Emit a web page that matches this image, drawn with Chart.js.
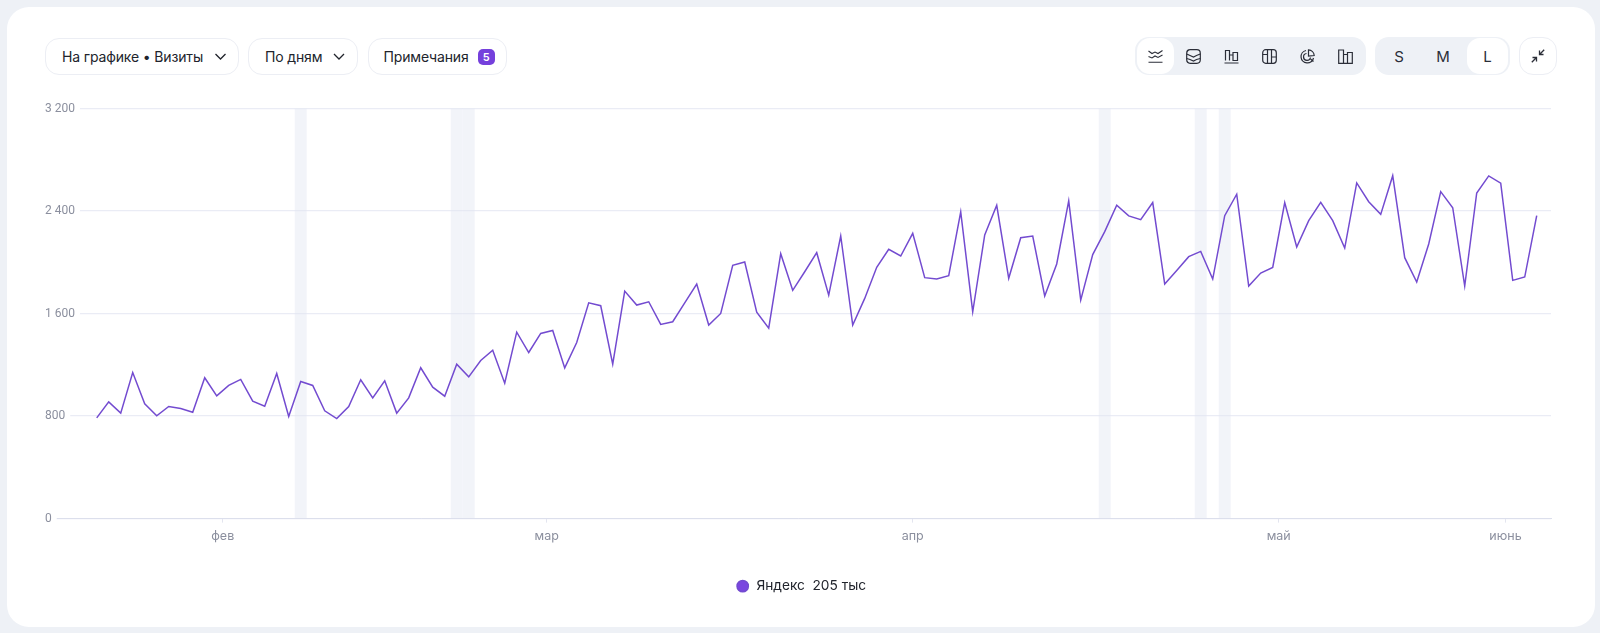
<!DOCTYPE html>
<html lang="ru">
<head>
<meta charset="utf-8">
<title>Визиты</title>
<script src="https://cdn.jsdelivr.net/npm/chart.js@4/dist/chart.umd.min.js"></script>
<style>
  html, body { margin: 0; padding: 0; width: 1600px; height: 633px; overflow: hidden; background: #eef1f6; }
  body { font-family: Inter, "Noto Sans", sans-serif; color: #21242c; }
  .card { position: absolute; left: 7px; top: 7px; width: 1588px; height: 620px; background: #fff; border-radius: 22px; }
  .btn { position: absolute; top: 38px; height: 35px; border: 1px solid #eceef4; border-radius: 14px; background: #fff;
         display: flex; align-items: center; font-size: 14px; letter-spacing: -0.15px; white-space: nowrap; }
  .btn svg { display: block; }
  .badge { display: inline-block; width: 17px; height: 16px; line-height: 16px; text-align: center; background: #7540dc;
           color: #fff; font-size: 11px; font-weight: 600; border-radius: 5px; margin-left: 9px; letter-spacing: 0; }
  .group { position: absolute; top: 37px; height: 38px; background: #eef1f6; border-radius: 14px; }
  .cell { position: absolute; top: 1px; height: 36px; display: flex; align-items: center; justify-content: center; font-size: 15px; color: #2b2e38; }
  .cell.on { background: #fff; border-radius: 13px; }
  #chartBox { position: absolute; left: 0; top: 96px; width: 1600px; height: 511px; }
</style>
</head>
<body>
<div class="card"></div>

<div class="btn" style="left:45px;width:176px;padding-left:16px">На графике • Визиты
  <svg style="margin-left:12px" width="11" height="7" viewBox="0 0 11 7"><path d="M.5 1l5 5 5-5" fill="none" stroke="#21242c" stroke-width="1.3"/></svg></div>
<div class="btn" style="left:248px;width:92px;padding-left:16px">По дням
  <svg style="margin-left:11px" width="12" height="7" viewBox="0 0 12 7"><path d="M1 1l5 5 5-5" fill="none" stroke="#21242c" stroke-width="1.3"/></svg></div>
<div class="btn" style="left:367.500px;width:122px;padding-left:15px">Примечания<span class="badge">5</span></div>

<div class="group" style="left:1135px;width:231px">
  <div class="cell on" style="left:2px;width:37px"><svg width="15" height="13" viewBox="0 0 15 13" fill="none" stroke="#2b2e38" stroke-width="1.1"><path d="M.5 1l3.500 2.500 3-1.500 3 1.500L14.500.5M.5 6.500l3.500 1.500 3-2 3 1.500 4.500-2.500M.5 12.300h14"/></svg></div>
  <div class="cell" style="left:39.500px;width:38px"><svg width="15" height="15" viewBox="0 0 15 15" fill="none" stroke="#2b2e38" stroke-width="1.2"><rect x=".7" y=".7" width="13.600" height="13.600" rx="3.500"/><path d="M.7 5l3.300 1.500 3.500 1.500 3-1.500 3.800-1.500M.7 9.500l3.300 1 3.500 1.500 3-1.500 3.800-1"/></svg></div>
  <div class="cell" style="left:77.500px;width:38px"><svg width="15" height="15" viewBox="0 0 15 15" fill="none" stroke="#2b2e38" stroke-width="1.2"><path d="M.5 14h14M1.500 11.500V1.500h4v10M5.500 11.500V6h3.500v5.500M9 11.500V3.500h4.500v8z"/></svg></div>
  <div class="cell" style="left:115.500px;width:38px"><svg width="15" height="15" viewBox="0 0 15 15" fill="none" stroke="#2b2e38" stroke-width="1.2"><rect x=".7" y=".7" width="13.600" height="13.600" rx="3"/><path d="M5.500.7v13.600M9.500.7v13.600M.7 5.500h4.800M9.500 8h4.800"/></svg></div>
  <div class="cell" style="left:153.500px;width:38px"><svg width="15" height="15" viewBox="0 0 15 15" fill="none" stroke="#2b2e38" stroke-width="1.2"><path d="M6 1.500a6.300 6.300 0 1 0 7.500 7.500"/><path d="M6.500 4.500a3.500 3.500 0 1 0 4 4"/><path d="M8.500.8a6 6 0 0 1 5.700 5.700L8.500 7zM10.500 10l3 2.500"/></svg></div>
  <div class="cell" style="left:191.500px;width:38px"><svg width="15" height="15" viewBox="0 0 15 15" fill="none" stroke="#2b2e38" stroke-width="1.2"><path d="M.7 14.300V1h4.800v13.300zM5.500 14.300V5.500h4v8.800zM9.500 14.300V3.500h4.800v10.800z"/></svg></div>
</div>

<div class="group" style="left:1375px;width:135px">
  <div class="cell" style="left:4px;width:40px">S</div>
  <div class="cell" style="left:48px;width:40px">M</div>
  <div class="cell on" style="left:92px;width:41px">L</div>
</div>

<div class="btn" style="left:1519px;top:37px;width:36px;height:36px;justify-content:center">
  <svg width="14" height="14" viewBox="0 0 14 14" fill="none" stroke="#2b2e38" stroke-width="1.3"><path d="M.8 13.200L5 9M1.500 8.500H5.500v4M13.200.8L9 5M12.500 5.500H8.500v-4"/></svg>
</div>

<div id="chartBox"><canvas id="visitsChart"></canvas></div>

<script>
// daily visits, Яндекс
const visits = [
  786, 911, 823, 1140, 896, 802, 875, 859, 830, 1099,
  958, 1039, 1086, 916, 877, 1132, 797, 1070, 1039, 841,
  781, 875, 1083, 942, 1075, 823, 942, 1177, 1026, 955,
  1205, 1106, 1234, 1314, 1057, 1455, 1296, 1445, 1468, 1176,
  1374, 1684, 1661, 1205, 1775, 1666, 1692, 1515, 1536, 1684,
  1830, 1510, 1601, 1976, 2002, 1611, 1486, 2067, 1781, 1926,
  2075, 1744, 2205, 1510, 1718, 1961, 2101, 2049, 2226, 1880,
  1870, 1896, 2393, 1614, 2213, 2445, 1875, 2192, 2205, 1737,
  1987, 2479, 1705, 2060, 2239, 2445, 2362, 2333, 2466, 1830,
  1935, 2044, 2085, 1869, 2364, 2531, 1815, 1916, 1960, 2466,
  2119, 2325, 2468, 2325, 2111, 2619, 2473, 2374, 2676, 2036,
  1846, 2143, 2551, 2426, 1815, 2541, 2674, 2617, 1859, 1885,
  2364
];

// day indexes that carry a note
const noteDays = [17, 30, 31, 84, 92, 94];

const monthLabels = ['фев', 'мар', 'апр', 'май', 'июнь'];
const monthTicks = [10.5, 37.5, 68, 98.5, 117.4];
const yTicks = [0, 800, 1600, 2400, 3200];

const seriesName = 'Яндекс';
const seriesTotal = '205 тыс';

const tickColor = '#8b8f9e';

new Chart(document.getElementById('visitsChart'), {
  data: {
    datasets: [
      {
        type: 'line',
        label: seriesName + '  ' + seriesTotal,
        data: visits.map((v, i) => ({ x: i, y: v })),
        borderColor: '#734bd0',
        backgroundColor: '#7a45e0',
        borderWidth: 1.5,
        pointRadius: 0,
        tension: 0,
        order: 1
      },
      {
        type: 'bar',
        label: 'notes',
        data: noteDays.map(d => ({ x: d, y: 3200 })),
        backgroundColor: 'rgba(226,230,242,0.45)',
        barThickness: 12,
        inflateAmount: 0,
        order: 2
      }
    ]
  },
  options: {
    responsive: true,
    maintainAspectRatio: false,
    animation: false,
    layout: { padding: { left: 45, right: 49, top: 12.5, bottom: 4 } },
    scales: {
      x: {
        type: 'linear',
        offset: false,
        min: -4.31,
        max: 121.19,
        afterBuildTicks(axis) { axis.ticks = monthTicks.map(value => ({ value })); },
        grid: { offset: false, drawOnChartArea: false, drawTicks: true, tickLength: 4, tickColor: '#e3e5ef' },
        border: { color: '#dcdfec', width: 1 },
        ticks: {
          autoSkip: false,
          maxRotation: 0,
          padding: 6,
          color: tickColor,
          font: { family: 'Inter, "Noto Sans", sans-serif', size: 12.5 },
          callback(value) { return monthLabels[monthTicks.indexOf(value)]; }
        }
      },
      y: {
        min: 0,
        max: 3200,
        afterBuildTicks(axis) { axis.ticks = yTicks.map(value => ({ value })); },
        grid: { color: '#eaecf5', lineWidth: 1.2, drawTicks: false },
        border: { display: false },
        ticks: {
          mirror: true,
          padding: 0,
          color: tickColor,
          font: { family: 'Roboto, "Noto Sans", sans-serif', size: 12 },
          showLabelBackdrop: true,
          backdropColor: '#fff',
          backdropPadding: { left: 0, right: 5, top: 2, bottom: 2 },
          callback(value) { return String(value).replace(/\B(?=(\d{3})+$)/, ' '); }
        }
      }
    },
    plugins: {
      tooltip: { enabled: false },
      legend: {
        position: 'bottom',
        labels: {
          usePointStyle: true,
          pointStyle: 'circle',
          boxHeight: 8,
          padding: 29.7,
          color: '#21242c',
          font: { family: 'Inter, "Noto Sans", sans-serif', size: 13.7 },
          filter(item) { return item.text !== 'notes'; }
        }
      }
    }
  },
  plugins: [{
    // legend sits centred on the whole card, not on the plot area
    id: 'legendOffset',
    afterLayout(chart) {
      chart.legend.left += 3;
      chart.legend.right += 3;
    }
  }]
});
</script>
</body>
</html>
